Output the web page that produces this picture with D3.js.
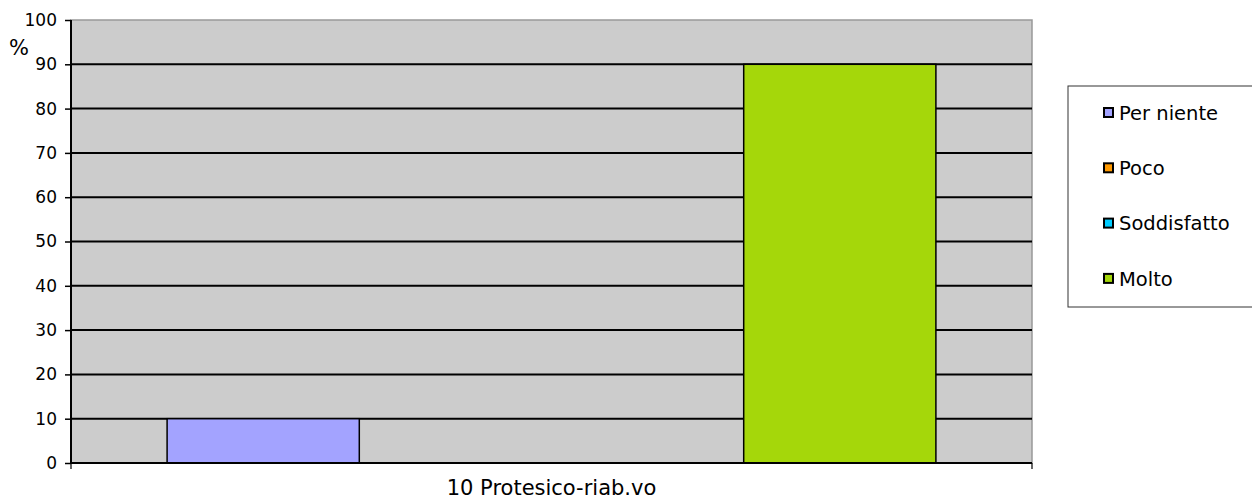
<!DOCTYPE html>
<html>
<head>
<meta charset="utf-8">
<script src="https://cdn.jsdelivr.net/npm/d3@7"></script>
<style>
  body { margin: 0; background: #fff; }
  text { font-family: "DejaVu Sans", Verdana, sans-serif; fill: #000; }
</style>
</head>
<body>
<svg id="chart" width="1252" height="502"></svg>
<script>
// data
var category = "10 Protesico-riab.vo";
var seriesNames = ["Per niente", "Poco", "Soddisfatto", "Molto"];
var seriesValues = [10, 0, 0, 90];
var seriesColors = ["#a3a3ff", "#ff9900", "#00ccff", "#a5d70a"];
var yTicks = [0, 10, 20, 30, 40, 50, 60, 70, 80, 90, 100];

var margin = {top: 20, left: 71};
var plotW = 1032 - margin.left, plotH = 463 - margin.top;

var svg = d3.select("#chart");
var g = svg.append("g")
    .attr("transform", "translate(" + margin.left + "," + margin.top + ")");

var x0 = d3.scaleBand().domain([category]).range([0, plotW]);
var x1 = d3.scaleBand().domain(seriesNames)
    .range([0, x0.bandwidth()]).paddingOuter(0.5).paddingInner(0);
var y = d3.scaleLinear().domain([0, 100]).range([plotH, 0]);

// background
g.append("rect")
    .attr("width", plotW).attr("height", plotH)
    .attr("fill", "#cccccc")
    .attr("stroke", "#999999").attr("stroke-width", 1.5);

// gridlines
g.selectAll("line.grid")
    .data(yTicks.filter(function(d){ return d > 0 && d < 100; }))
    .enter().append("line")
    .attr("x1", 0).attr("x2", plotW)
    .attr("y1", function(d){ return y(d); })
    .attr("y2", function(d){ return y(d); })
    .attr("stroke", "#000").attr("stroke-width", 2);

// bars
g.selectAll("rect.bar")
    .data(seriesNames)
    .enter().append("rect")
    .attr("class", "bar")
    .attr("x", function(d){ return x0(category) + x1(d); })
    .attr("width", x1.bandwidth())
    .attr("y", function(d, i){ return y(seriesValues[i]); })
    .attr("height", function(d, i){ return plotH - y(seriesValues[i]); })
    .attr("fill", function(d, i){ return seriesColors[i]; })
    .attr("stroke", "#000").attr("stroke-width", 1.5)
    .style("display", function(d, i){ return seriesValues[i] > 0 ? null : "none"; });

// y axis
var yAxis = g.append("g")
    .call(d3.axisLeft(y).tickValues(yTicks).tickSize(6).tickPadding(8));
yAxis.select(".domain").attr("stroke", "#000").attr("stroke-width", 2)
    .attr("d", "M0,0V" + plotH);
yAxis.selectAll(".tick line").attr("stroke", "#000").attr("stroke-width", 1.5);
yAxis.selectAll(".tick text").style("font-family", "DejaVu Sans, Verdana, sans-serif")
    .style("font-size", "17px").attr("fill", "#000");

// x axis
var xAxis = g.append("g")
    .attr("transform", "translate(0," + plotH + ")")
    .call(d3.axisBottom(x0).tickSize(0).tickPadding(17));
xAxis.select(".domain").attr("stroke", "#000").attr("stroke-width", 2)
    .attr("d", "M0,0H" + plotW);
xAxis.selectAll(".tick text").style("font-family", "DejaVu Sans, Verdana, sans-serif")
    .style("font-size", "21px").attr("fill", "#000");
[0, plotW].forEach(function(px){
    g.append("line").attr("x1", px).attr("x2", px)
        .attr("y1", plotH).attr("y2", plotH + 6)
        .attr("stroke", "#000").attr("stroke-width", 1.2);
});

// y label
svg.append("text")
    .attr("x", 19).attr("y", 55)
    .attr("text-anchor", "middle")
    .style("font-size", "21px")
    .text("%");

// legend
var legend = svg.append("g").attr("transform", "translate(1068,86)");
legend.append("rect")
    .attr("width", 190).attr("height", 221)
    .attr("fill", "#fff").attr("stroke", "#333").attr("stroke-width", 1);
var items = legend.selectAll("g.item")
    .data(seriesNames)
    .enter().append("g")
    .attr("transform", function(d, i){ return "translate(35," + (27 + i * 55.3) + ")"; });
items.append("rect")
    .attr("x", 1).attr("y", -5).attr("width", 9).attr("height", 9)
    .attr("fill", function(d, i){ return seriesColors[i]; })
    .attr("stroke", "#000").attr("stroke-width", 2);
items.append("text")
    .attr("x", 16).attr("dy", "0.35em")
    .style("font-size", "19.5px")
    .text(function(d){ return d; });
</script>
</body>
</html>
